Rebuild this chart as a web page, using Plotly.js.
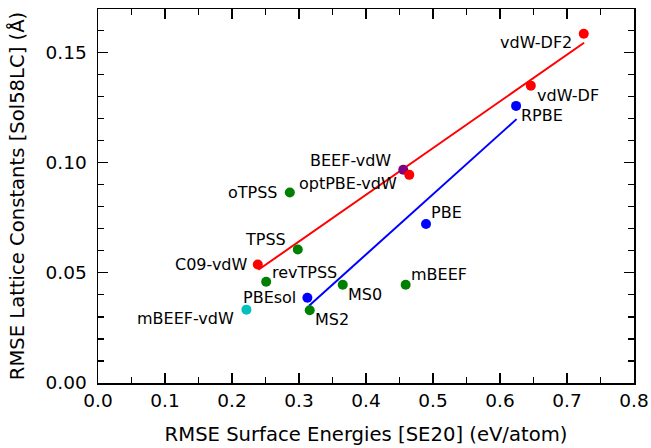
<!DOCTYPE html>
<html>
<head>
<meta charset="utf-8">
<script src="https://cdn.plot.ly/plotly-3.0.1.min.js"></script>
<style>html,body{margin:0;padding:0;background:#fff}#chart{width:651px;height:448px}</style>
</head>
<body>
<div id="chart"></div>
<script>
// ---- data ----
const names = ["vdW-DF2","vdW-DF","RPBE","BEEF-vdW","optPBE-vdW","PBE","oTPSS","TPSS","C09-vdW","revTPSS","PBEsol","mBEEF-vdW","MS2","MS0","mBEEF"];
const surfaceRMSE = [0.725,0.646,0.624,0.4556,0.4646,0.4896,0.2863,0.2982,0.2385,0.251,0.3125,0.2215,0.316,0.3653,0.4592];
const latticeRMSE = [0.1586,0.135,0.1258,0.0968,0.0945,0.0722,0.0865,0.0606,0.0538,0.046,0.0387,0.0333,0.033,0.0446,0.0446];
const family = ["vdw","vdw","gga","beef","vdw","gga","mgga","mgga","vdw","mgga","gga","mbeefvdw","mgga","mgga","mgga"];
// fit lines (end points of the fitted trends)
const vdwFitX = [0.2394,0.7255];
const vdwFitY = [0.0514,0.1545];
const ggaFitX = [0.315,0.6247];
const ggaFitY = [0.0351,0.1198];
const xTicks = [0.0,0.1,0.2,0.3,0.4,0.5,0.6,0.7,0.8];
const yTicks = [0.00,0.05,0.10,0.15];

// ---- styles ----
const familyColor = {vdw:"#ff0000",gga:"#0000ff",mgga:"#008000",beef:"#800080",mbeefvdw:"#00bfbf"};
// label placement: [xanchor, xshift, yshift]
const labelPlace = {
  "vdW-DF2":["right",-10,-9],"vdW-DF":["left",4,-10],"RPBE":["left",3,-10],
  "BEEF-vdW":["right",-10,9],"optPBE-vdW":["right",-10,-9],"PBE":["left",3,11],
  "oTPSS":["right",-10,0],"TPSS":["right",-10,10],"C09-vdW":["right",-8,0],
  "revTPSS":["left",4,9],"PBEsol":["right",-9,0],"mBEEF-vdW":["right",-10,-9],
  "MS2":["left",3,-9],"MS0":["left",3,-10],"mBEEF":["left",3,10]
};

const font = "DejaVu Sans, sans-serif";
const traces = [
  {x:vdwFitX,y:vdwFitY,mode:"lines",line:{color:"#ff0000",width:2},hoverinfo:"skip",showlegend:false},
  {x:ggaFitX,y:ggaFitY,mode:"lines",line:{color:"#0000ff",width:2},hoverinfo:"skip",showlegend:false},
  {x:surfaceRMSE,y:latticeRMSE,mode:"markers",text:names,
   marker:{size:10,color:family.map(f=>familyColor[f]),line:{width:0}},showlegend:false}
];

const annotations = names.map((n,i)=>{
  const p = labelPlace[n];
  return {x:surfaceRMSE[i],y:latticeRMSE[i],xref:"x",yref:"y",text:n,showarrow:false,
    xanchor:p[0],yanchor:"middle",xshift:p[1],yshift:p[2],
    font:{family:font,size:16,color:"#000"}};
});

const axisCommon = {
  showline:true,linecolor:"#000",linewidth:1.5,mirror:"allticks",
  ticks:"inside",ticklen:10,tickwidth:1.2,tickcolor:"#000",
  showgrid:false,zeroline:false,
  tickfont:{family:font,size:18.5,color:"#000"}
};

const layout = {
  width:651,height:448,
  margin:{l:98,r:17,t:9,b:65},
  paper_bgcolor:"#fff",plot_bgcolor:"#fff",
  xaxis:Object.assign({},axisCommon,{range:[0,0.8],tickvals:xTicks,ticktext:xTicks.map(v=>v.toFixed(1)),
    minor:{dtick:0.05,tick0:0,ticks:"inside",ticklen:6,tickwidth:1.2,tickcolor:"#000",showgrid:false},
    title:{text:"RMSE Surface Energies [SE20] (eV/atom)",font:{family:font,size:19.6,color:"#000"},standoff:17}}),
  yaxis:Object.assign({},axisCommon,{range:[0,0.1698],tickvals:yTicks,ticktext:yTicks.map(v=>v.toFixed(2)),
    minor:{dtick:0.01,tick0:0,ticks:"inside",ticklen:6,tickwidth:1.2,tickcolor:"#000",showgrid:false},
    ticklabelstandoff:6,
    title:{text:"RMSE Lattice Constants [Sol58LC] (Å)",font:{family:font,size:19.6,color:"#000"},standoff:15}}),
  annotations:annotations
};

Plotly.newPlot("chart",traces,layout,{displayModeBar:false,staticPlot:true});
</script>
</body>
</html>
